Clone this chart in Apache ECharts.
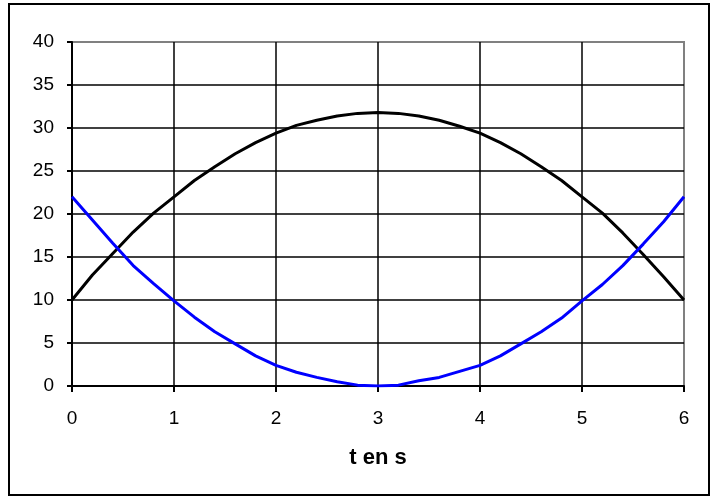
<!DOCTYPE html>
<html>
<head>
<meta charset="utf-8">
<script src="https://cdn.jsdelivr.net/npm/echarts@6/dist/echarts.min.js"></script>
<style>
  html, body { margin: 0; padding: 0; background: #fff; }
  #chart { width: 711px; height: 502px; }
</style>
</head>
<body>
<div id="chart"></div>
<script>
// time axis (tens of s), read every 0.2
const tValues = [0, 0.2, 0.4, 0.6, 0.8, 1, 1.2, 1.4, 1.6, 1.8, 2, 2.2, 2.4, 2.6, 2.8, 3,
  3.2, 3.4, 3.6, 3.8, 4, 4.2, 4.4, 4.6, 4.8, 5, 5.2, 5.4, 5.6, 5.8, 6];

// black curve (arch)
const blackValues = [10.0, 12.9, 15.4, 17.9, 20.1, 22.0, 23.9, 25.5, 27.0, 28.3, 29.4, 30.3, 30.9, 31.4, 31.7, 31.8,
  31.7, 31.4, 30.9, 30.2, 29.4, 28.3, 27.0, 25.5, 23.9, 22.0, 20.1, 17.8, 15.3, 12.7, 10.0];

// blue curve (bowl)
const blueValues = [22.0, 19.3, 16.6, 14.0, 11.9, 9.9, 8.0, 6.3, 4.9, 3.5, 2.4, 1.6, 1.0, 0.5, 0.1, 0.0,
  0.1, 0.6, 1.0, 1.7, 2.4, 3.5, 4.9, 6.3, 7.9, 9.9, 11.8, 14.0, 16.5, 19.1, 22.0];

// axis ticks
const xTicks = { min: 0, max: 6, interval: 1 };
const yTicks = { min: 0, max: 40, interval: 5 };
const xName = 't en s';

const FONT = '"Liberation Sans", Arial, sans-serif';

const chart = echarts.init(document.getElementById('chart'), null, { renderer: 'canvas' });

function toPairs(xs, ys) {
  return xs.map((x, i) => [x, ys[i]]);
}

chart.setOption({
  animation: false,
  backgroundColor: '#ffffff',
  // outer frame
  graphic: [
    {
      type: 'rect',
      shape: { x: 9, y: 4, width: 700, height: 491 },
      style: { fill: 'none', stroke: '#000', lineWidth: 2 },
      silent: true,
    },
  ],
  grid: {
    left: 72,
    right: 27,
    top: 42,
    bottom: 116,
    show: true,
    borderColor: '#808080',
    borderWidth: 2,
  },
  xAxis: {
    type: 'value',
    min: xTicks.min,
    max: xTicks.max,
    interval: xTicks.interval,
    name: xName,
    nameLocation: 'middle',
    nameGap: 61,
    nameTextStyle: { fontFamily: FONT, fontSize: 22, fontWeight: 'bold', color: '#000' },
    axisLine: { show: true, lineStyle: { color: '#000', width: 2 } },
    axisTick: { show: true, length: 6, lineStyle: { color: '#000', width: 2 } },
    axisLabel: { margin: 23, fontFamily: FONT, fontSize: 19, color: '#000' },
    splitLine: { show: true, showMaxLine: false, lineStyle: { color: '#000', width: 1.5 } },
  },
  yAxis: {
    type: 'value',
    min: yTicks.min,
    max: yTicks.max,
    interval: yTicks.interval,
    axisLine: { show: true, lineStyle: { color: '#000', width: 2 } },
    axisTick: { show: true, length: 5, lineStyle: { color: '#000', width: 2 } },
    axisLabel: { margin: 18, fontFamily: FONT, fontSize: 19, color: '#000' },
    splitLine: { show: true, showMaxLine: false, lineStyle: { color: '#000', width: 1.5 } },
  },
  series: [
    {
      type: 'line',
      data: toPairs(tValues, blackValues),
      showSymbol: false,
      symbol: 'none',
      lineStyle: { color: '#000', width: 3 },
      z: 3,
    },
    {
      type: 'line',
      data: toPairs(tValues, blueValues),
      showSymbol: false,
      symbol: 'none',
      lineStyle: { color: '#0000ff', width: 3 },
      z: 4,
    },
  ],
});
</script>
</body>
</html>
